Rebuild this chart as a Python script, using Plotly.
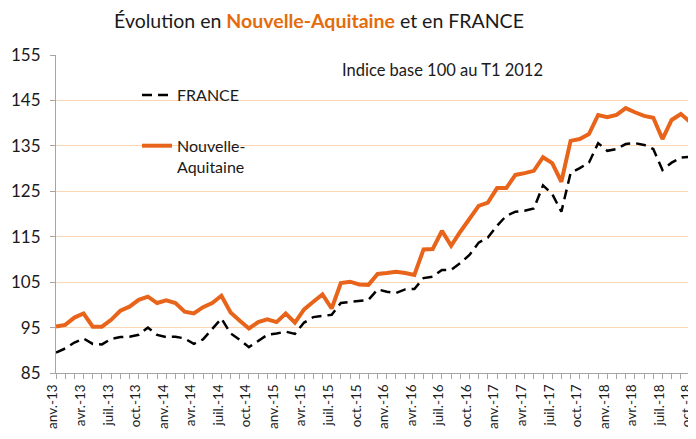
import plotly.graph_objects as go

# ---- data ----
tick_labels = ["anv.-13", "avr.-13", "juil.-13", "oct.-13",
               "anv.-14", "avr.-14", "juil.-14", "oct.-14",
               "anv.-15", "avr.-15", "juil.-15", "oct.-15",
               "anv.-16", "avr.-16", "juil.-16", "oct.-16",
               "anv.-17", "avr.-17", "juil.-17", "oct.-17",
               "anv.-18", "avr.-18", "juil.-18", "oct.-18"]

nouvelle_aquitaine = [
    95.2, 95.6, 97.2, 98.1, 95.2, 95.2, 96.7, 98.7, 99.6, 101.1, 101.8, 100.4,
    101.0, 100.4, 98.5, 98.1, 99.5, 100.4, 102.0, 98.3, 96.5, 94.8, 96.2, 96.8,
    96.2, 98.1, 96.1, 99.0, 100.7, 102.3, 99.2, 104.8, 105.1, 104.5, 104.4, 106.8,
    107.0, 107.3, 107.0, 106.6, 112.2, 112.3, 116.3, 113.0, 116.1, 119.1, 121.8, 122.5,
    125.7, 125.7, 128.6, 129.0, 129.5, 132.5, 131.2, 127.1, 136.1, 136.5, 137.6, 141.8,
    141.3, 141.8, 143.3, 142.4, 141.6, 141.2, 136.5, 140.7, 142.0, 140.3, 142.3]

france = [
    89.5, 90.4, 91.7, 92.6, 91.4, 91.3, 92.5, 92.9, 93.0, 93.4, 95.0, 93.4,
    92.9, 93.0, 92.6, 91.4, 92.4, 94.6, 97.0, 93.7, 92.3, 90.7, 92.1, 93.4,
    93.7, 94.1, 93.6, 96.1, 97.3, 97.6, 97.8, 100.4, 100.6, 100.8, 101.1, 103.4,
    102.9, 102.6, 103.4, 103.5, 105.9, 106.2, 107.7, 107.7, 109.2, 111.0, 113.7, 114.8,
    117.4, 119.6, 120.5, 120.7, 121.2, 126.3, 124.4, 120.5, 129.0, 130.1, 131.3, 135.6,
    133.9, 134.3, 135.4, 135.6, 135.2, 134.3, 129.7, 131.3, 132.4, 132.6, 133.3]

x_idx = list(range(len(france)))
tick_idx = list(range(0, 70, 3))
y_ticks = [85, 95, 105, 115, 125, 135, 145, 155]

ORANGE = "#E8641B"
TITLE_ORANGE = "#E46C0A"
FONT = "Lato, 'Noto Sans', sans-serif"

# page offset (browser body margin)
OFF = 8
W, H = 696 - OFF, 439 - OFF
PL, PR, PT, PB = 56, 696, 55, 373  # plot area in page pixels


def px_x(p):
    return (p - PL) / (PR - PL)


def px_y(p):
    return (PB - p) / (PB - PT)


fig = go.Figure()
fig.add_trace(go.Scatter(
    x=x_idx, y=france, mode="lines", name="FRANCE", legendgroup="fr",
    line=dict(color="#000000", width=2.5, dash="10px,6px"),
))
fig.add_trace(go.Scatter(
    x=x_idx, y=nouvelle_aquitaine, mode="lines", name="Nouvelle-<br>Aquitaine", legendgroup="na",
    line=dict(color=ORANGE, width=4),
))

fig.update_layout(
    width=W, height=H,
    margin=dict(l=PL - OFF, r=0, t=PT - OFF, b=H - (PB - OFF)),
    paper_bgcolor="white", plot_bgcolor="white",
    font=dict(family=FONT, color="#1a1a1a", size=15),
    title=dict(
        text="Évolution en <span style='color:%s'><b>Nouvelle-Aquitaine</b></span> et en FRANCE" % TITLE_ORANGE,
        x=(319 - OFF) / W, xref="container", xanchor="center",
        y=1 - 13 / H, yref="container", yanchor="middle",
        font=dict(family=FONT, size=19.5, color="#1a1a1a"),
    ),
    showlegend=True,
    legend=dict(
        x=px_x(137), xanchor="left", y=px_y(78), yanchor="top",
        bgcolor="rgba(0,0,0,0)", borderwidth=0,
        font=dict(family=FONT, size=16, color="#1a1a1a"),
        tracegroupgap=27, valign="top",
    ),
    xaxis=dict(
        range=[0, 69.65], tickmode="array", tickvals=tick_idx, ticktext=tick_labels,
        tickangle=-90, tickfont=dict(size=13.5, color="#1a1a1a"),
        ticklabeloverflow="allow", ticklabelshift=-3,
        showgrid=False, zeroline=False, automargin=False,
        showline=True, linecolor="#A6A6A6", linewidth=1,
        ticks="outside", ticklen=5, tickcolor="#A6A6A6",
        minor=dict(dtick=1, tick0=0, ticks="outside", ticklen=5, tickcolor="#A6A6A6", showgrid=False),
    ),
    yaxis=dict(
        range=[85, 155], tickmode="array", tickvals=y_ticks,
        tickfont=dict(size=17, color="#1a1a1a"),
        showgrid=True, gridcolor="#FCD5B5", gridwidth=1, zeroline=False, automargin=False,
        showline=True, linecolor="#A6A6A6", linewidth=1,
        ticks="outside", ticklen=5, tickcolor="#A6A6A6",
        ticklabelstandoff=6,
    ),
    shapes=[dict(
        type="rect", xref="paper", yref="paper",
        x0=px_x(328), x1=px_x(587), y0=px_y(88), y1=px_y(48),
        fillcolor="white", line=dict(width=0), layer="above",
    )],
    annotations=[dict(
        text="Indice base 100 au T1 2012", xref="paper", yref="paper",
        x=px_x(442), y=px_y(70), xanchor="center", yanchor="middle",
        showarrow=False, font=dict(family=FONT, size=16.5, color="#1a1a1a"),
    )],
)

fig.write_html("out.html")
